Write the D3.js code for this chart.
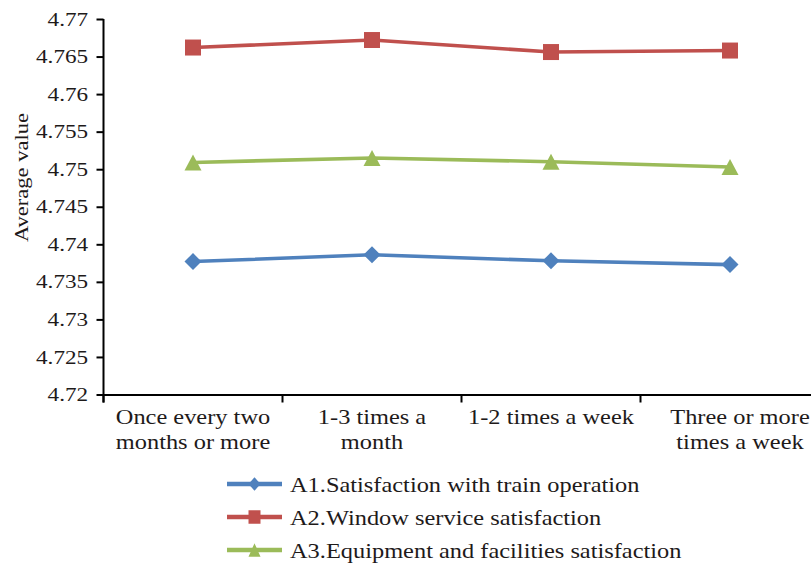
<!DOCTYPE html>
<html>
<head>
<meta charset="utf-8">
<script src="https://cdn.jsdelivr.net/npm/d3@7"></script>
<style>
  html, body { margin: 0; padding: 0; background: #fff; }
  svg { display: block; }
  text { font-family: "Liberation Serif", "Times New Roman", serif; fill: #1e1a1a; }
</style>
</head>
<body>
<svg id="chart" width="811" height="565"></svg>
<script>
// Frequency of use (categories along the x axis)
const categories = [
  "Once every two months or more",
  "1-3 times a month",
  "1-2 times a week",
  "Three or more times a week"
];
// Wrapped label lines for each category
const categoryLines = [
  ["Once every two", "months or more"],
  ["1-3 times a", "month"],
  ["1-2 times a week"],
  ["Three or more", "times a week"]
];

// Series names and average values
const seriesNames = [
  "A1.Satisfaction with train operation",
  "A2.Window service satisfaction",
  "A3.Equipment and facilities satisfaction"
];
const a1Values = [4.7377, 4.7386, 4.7378, 4.7373];
const a2Values = [4.7662, 4.7672, 4.7656, 4.7658];
const a3Values = [4.7509, 4.7515, 4.7510, 4.7503];

// Y axis ticks
const yTicks = [4.72, 4.725, 4.73, 4.735, 4.74, 4.745, 4.75, 4.755, 4.76, 4.765, 4.77];
const yTitle = "Average value";

const colors = ["#4f81bd", "#c0504d", "#9bbb59"];
const shapes = ["diamond", "square", "triangle"];
const series = [a1Values, a2Values, a3Values];

const svg = d3.select("#chart");
const SX = 1.22; // horizontal stretch of the lettering

const plotLeft = 103.5, band = 179, plotTop = 19, plotBottom = 394.5;

const x = d3.scaleBand().domain(categories).range([plotLeft, plotLeft + band * categories.length]).padding(0);
const y = d3.scaleLinear().domain([4.72, 4.77]).range([plotBottom, plotTop]);

function markerPath(shape, w, h) {
  const a = w / 2, b = h / 2;
  if (shape === "square") return `M${-a},${-b}H${a}V${b}H${-a}Z`;
  if (shape === "diamond") return `M0,${-b}L${a},0L0,${b}L${-a},0Z`;
  return `M0,${-b}L${a},${b}L${-a},${b}Z`;
}

// Y axis
const yAxis = svg.append("g")
  .attr("transform", `translate(${plotLeft},0)`)
  .call(d3.axisLeft(y).tickValues(yTicks).tickFormat(d3.format(".3~f")).tickSize(7).tickPadding(5.6));
yAxis.select(".domain").attr("stroke", "#000").attr("stroke-width", 2).attr("d", `M0,${plotTop}V${plotBottom + 8}`);
yAxis.selectAll(".tick line").attr("stroke", "#000").attr("stroke-width", 2);
yAxis.selectAll(".tick text")
  .attr("transform", `scale(${SX},1)`)
  .attr("font-size", 19)
  .attr("font-family", "Liberation Serif, serif")
  .attr("fill", "#1e1a1a");

// X axis: baseline plus ticks at band boundaries
const xAxis = svg.append("g")
  .attr("transform", `translate(0,${plotBottom})`)
  .call(d3.axisBottom(x).tickSize(0).tickFormat(""));
xAxis.select(".domain").attr("stroke", "#000").attr("stroke-width", 2.2);
xAxis.selectAll(".tick").remove();
const boundaries = categories.map(c => x(c)).concat([x.range()[1]]);
xAxis.selectAll("line.bound").data(boundaries).join("line")
  .attr("class", "bound")
  .attr("x1", d => d).attr("x2", d => d)
  .attr("y1", 0).attr("y2", 8)
  .attr("stroke", "#000").attr("stroke-width", 2);

// Category labels
const labelNudge = [0, 0, 0, 10];
categories.forEach((c, i) => {
  const cx = x(c) + x.bandwidth() / 2 + labelNudge[i];
  const t = svg.append("text")
    .attr("transform", `translate(${cx},424) scale(${SX},1)`)
    .attr("text-anchor", "middle")
    .attr("font-size", 20);
  categoryLines[i].forEach((ln, j) => {
    t.append("tspan").attr("x", 0).attr("y", j * 25).text(ln);
  });
});

// Y axis title
svg.append("text")
  .attr("transform", `translate(28,177.5) rotate(-90) scale(${SX},1)`)
  .attr("text-anchor", "middle")
  .attr("font-size", 18.5)
  .text(yTitle);

// Series lines and markers
const line = d3.line()
  .x((d, i) => x(categories[i]) + x.bandwidth() / 2)
  .y(d => y(d));

series.forEach((vals, s) => {
  svg.append("path")
    .datum(vals)
    .attr("d", line)
    .attr("fill", "none")
    .attr("stroke", colors[s])
    .attr("stroke-width", 3.6)
    .attr("stroke-linejoin", "round");
  svg.selectAll(null).data(vals).join("path")
    .attr("transform", (d, i) => `translate(${x(categories[i]) + x.bandwidth() / 2},${y(d)})`)
    .attr("d", shapes[s] === "square" ? markerPath("square", 16, 16)
             : shapes[s] === "diamond" ? markerPath("diamond", 17, 17)
             : markerPath("triangle", 17, 16))
    .attr("fill", colors[s]);
});

// Legend
const legendRows = [484, 517, 550];
seriesNames.forEach((name, s) => {
  const g = svg.append("g").attr("transform", `translate(0,${legendRows[s]})`);
  g.append("line").attr("x1", 227).attr("x2", 282).attr("y1", 0).attr("y2", 0)
    .attr("stroke", colors[s]).attr("stroke-width", 4.5);
  g.append("path")
    .attr("transform", "translate(254.5,0)")
    .attr("d", markerPath(shapes[s], 12, 13.5))
    .attr("fill", colors[s]);
  g.append("text")
    .attr("transform", `translate(290,7.5) scale(${SX},1)`)
    .attr("font-size", 20)
    .text(name);
});
</script>
</body>
</html>
